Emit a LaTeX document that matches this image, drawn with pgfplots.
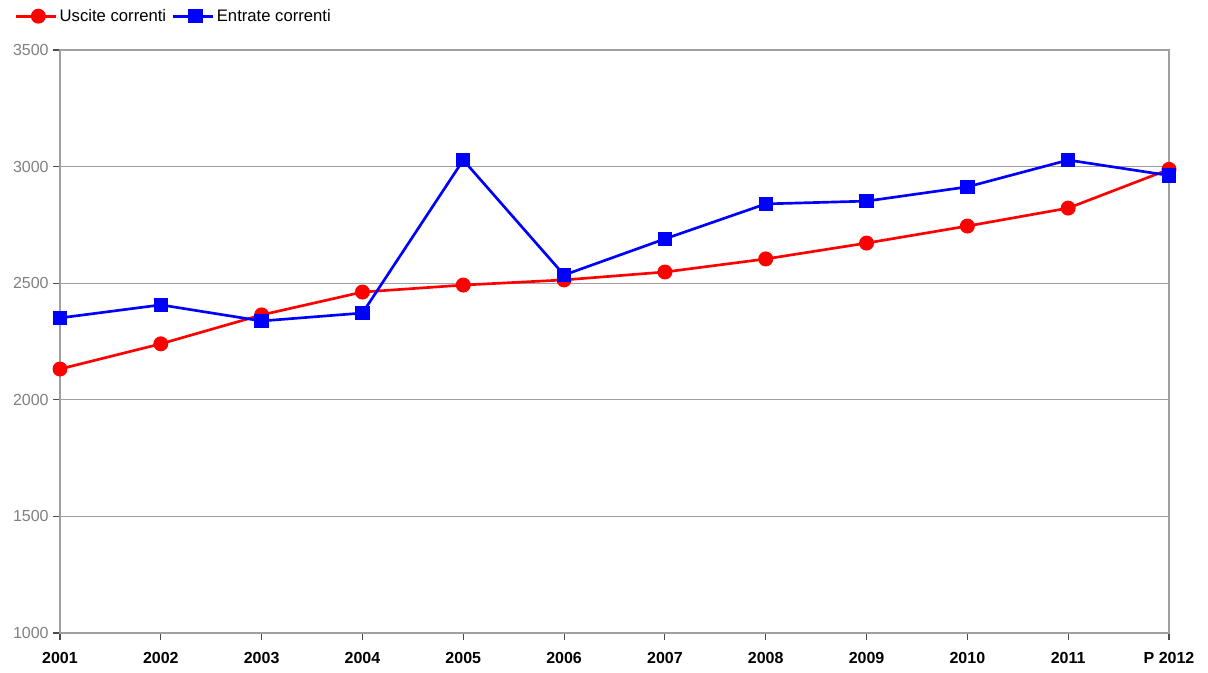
\documentclass[border=0pt]{standalone}
\usepackage{pgfplots}
\pgfplotsset{compat=1.18}
\usepackage{fontspec}
\setmainfont{Liberation Sans}
\definecolor{gridgray}{RGB}{160,160,160}
\definecolor{ticktext}{RGB}{128,128,128}

\begin{document}
\begin{tikzpicture}
    % 1 px of the reference = 0.75pt
    \path[use as bounding box] (0pt,0pt) rectangle (906pt,504.75pt);
    \begin{axis}[
        at={(45pt,30pt)}, anchor=south west,
        scale only axis,
        width=831.75pt, height=437.25pt,
        xmin=0, xmax=11,
        ymin=1000, ymax=3500,
        xtick={0,...,11},
        xticklabels={2001,2002,2003,2004,2005,2006,2007,2008,2009,2010,2011,P 2012},
        ytick={1000,1500,2000,2500,3000,3500},
        ymajorgrids=true,
        grid style={gridgray, line width=0.8pt},
        axis line style={gridgray, line width=0.8pt},
        x axis line style={black!75},
        tick pos=left,
        tick style={black!70, line width=0.8pt},
        tick align=outside,
        major tick length=5pt,
        x tick label style={font=\fontsize{12}{14}\selectfont\bfseries, yshift=-6pt},
        y tick label style={font=\fontsize{12}{14}\selectfont, text=ticktext},
        /pgf/number format/assume math mode=true,
        /pgf/number format/1000 sep={},
        legend columns=2,
        legend style={at={(-0.045,1.058)}, anchor=west, draw=none, fill=none,
            font=\fontsize{12.5}{15}\selectfont,
            /tikz/every even column/.append style={column sep=2pt}},
        legend cell align=left,
        legend image code/.code={
            \draw[#1] (0pt,0pt) -- (30pt,0pt);
            \draw[#1, only marks] plot coordinates {(17pt,0pt)};
        },
        clip=false,
    ]
        \addplot[red, line width=2pt, mark=*, mark size=4.6pt, mark options={solid, fill=red}] coordinates {
            (0,2132)(1,2240)(2,2364)(3,2462)(4,2492)(5,2514)
            (6,2548)(7,2604)(8,2672)(9,2745)(10,2822)(11,2988)
        };
        \addlegendentry{Uscite correnti}

        \addplot[blue, line width=2pt, mark=square*, mark size=4.4pt, mark options={solid, fill=blue}] coordinates {
            (0,2351)(1,2407)(2,2338)(3,2372)(4,3028)(5,2535)
            (6,2690)(7,2840)(8,2852)(9,2913)(10,3028)(11,2962)
        };
        \addlegendentry{Entrate correnti}
    \end{axis}
\end{tikzpicture}
\end{document}
